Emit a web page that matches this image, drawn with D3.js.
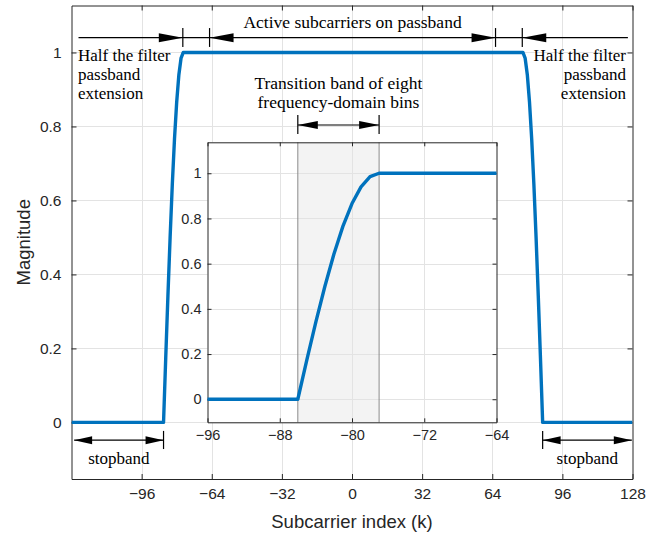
<!DOCTYPE html>
<html><head><meta charset="utf-8">
<script src="https://cdn.jsdelivr.net/npm/d3@7"></script>
<style>
body{margin:0;background:#fff;}
svg{display:block;}
</style></head>
<body>
<svg id="chart" width="661" height="534"></svg>
<script>
// ---------- data ----------
const subcarrierK = [-128,-86,-85,-84,-83,-82,-81,-80,-79,-78,-77,78,79,80,81,82,83,84,85,86,87,128];
const magnitude   = [0,0,0.174,0.342,0.5,0.643,0.766,0.866,0.940,0.985,1,1,0.985,0.940,0.866,0.766,0.643,0.5,0.342,0.174,0,0];
const mainXTicks = [-96,-64,-32,0,32,64,96,128];
const mainYTicks = [0,0.2,0.4,0.6,0.8,1];
const insetXTicks = [-96,-88,-80,-72,-64];
const insetYTicks = [0,0.2,0.4,0.6,0.8,1];
const transitionBand = [-86,-77];
const activeBand = [-65,65.5];
const filterEdges = [-77.2,77.7];
const stopEdges = [-86,87];
const labelTop = "Active subcarriers on passband";
const labelHalf = ["Half the filter","passband","extension"];
const labelTrans = ["Transition band of eight","frequency-domain bins"];
const labelStop = "stopband";

const series = subcarrierK.map((k,i)=>({k, m: magnitude[i]}));

// ---------- layout ----------
const svg = d3.select("#chart");
const axisColor = "#262626", gridColor = "#e3e3e3", lineColor = "#0072BD";
const sansFont = "'Liberation Sans', Arial, sans-serif";
const serifFont = "'Liberation Serif', 'Times New Roman', serif";

const x = d3.scaleLinear().domain([-128,128]).range([71.5,632.5]);
const y = d3.scaleLinear().domain([-0.153,1.127]).range([479,5.5]);
const xi = d3.scaleLinear().domain([-96,-64]).range([207.5,496.5]);
const yi = d3.scaleLinear().domain([-0.102,1.137]).range([422.3,142.3]);

const defs = svg.append("defs");
defs.append("clipPath").attr("id","clipMain").append("rect")
  .attr("x",x.range()[0]).attr("y",y.range()[1]).attr("width",x.range()[1]-x.range()[0]).attr("height",y.range()[0]-y.range()[1]);
defs.append("clipPath").attr("id","clipInset").append("rect")
  .attr("x",xi.range()[0]).attr("y",yi.range()[1]).attr("width",xi.range()[1]-xi.range()[0]).attr("height",yi.range()[0]-yi.range()[1]);

function drawAxesBox(g, sx, sy, xt, yt, opts){
  const [x0,x1] = sx.range(), [y0,y1] = sy.range(); // y0 bottom, y1 top
  g.append("rect").attr("x",x0).attr("y",y1).attr("width",x1-x0).attr("height",y0-y1).attr("fill","#fff");
  if (opts.before) opts.before(g);
  // grid
  g.append("g").selectAll("line").data(xt.filter(v=>v>sx.domain()[0]&&v<sx.domain()[1])).join("line")
    .attr("x1",d=>Math.round(sx(d))+0.5).attr("x2",d=>Math.round(sx(d))+0.5).attr("y1",y1).attr("y2",y0)
    .attr("stroke",gridColor).attr("stroke-width",1);
  g.append("g").selectAll("line").data(yt).join("line")
    .attr("y1",d=>Math.round(sy(d))+0.5).attr("y2",d=>Math.round(sy(d))+0.5).attr("x1",x0).attr("x2",x1)
    .attr("stroke",gridColor).attr("stroke-width",1);
  if (opts.mid) opts.mid(g);
  // axes with inward ticks
  const tl = opts.tickLen;
  const ax = g.append("g").attr("transform",`translate(0,${y0})`).call(d3.axisBottom(sx).tickValues(xt).tickSizeInner(-tl).tickSizeOuter(0).tickPadding(opts.xPad).tickFormat(d=>d<0?"\u2212"+Math.abs(d):d));
  const axT = g.append("g").attr("transform",`translate(0,${y1})`).call(d3.axisTop(sx).tickValues(xt).tickSizeInner(-tl).tickSizeOuter(0).tickFormat(""));
  const ay = g.append("g").attr("transform",`translate(${x0},0)`).call(d3.axisLeft(sy).tickValues(yt).tickSizeInner(-tl).tickSizeOuter(0).tickPadding(opts.yPad).tickFormat(d=>d===0?"0":(d===1?"1":d3.format(".1f")(d))));
  const ayR = g.append("g").attr("transform",`translate(${x1},0)`).call(d3.axisRight(sy).tickValues(yt).tickSizeInner(-tl).tickSizeOuter(0).tickFormat(""));
  [ax,axT,ay,ayR].forEach(a=>{
    a.select(".domain").attr("stroke",axisColor).attr("stroke-width",1);
    a.selectAll(".tick line").attr("stroke",axisColor);
    a.selectAll("text").attr("fill",axisColor).style("font-family",sansFont).style("font-size",opts.fs+"px");
  });
}

// ---------- main axes ----------
const gMain = svg.append("g");
drawAxesBox(gMain, x, y, mainXTicks, mainYTicks, {tickLen:5, xPad:9, yPad:10, fs:15.5});

const line = d3.line().x(d=>x(d.k)).y(d=>y(d.m));
gMain.append("path").datum(series).attr("clip-path","url(#clipMain)")
  .attr("d",line).attr("fill","none").attr("stroke",lineColor).attr("stroke-width",3.4).attr("stroke-linejoin","round");

// axis titles
svg.append("text").attr("x",(x.range()[0]+x.range()[1])/2).attr("y",528)
  .attr("text-anchor","middle").style("font-family",sansFont).style("font-size","18.5px").attr("fill",axisColor)
  .text("Subcarrier index (k)");
svg.append("text").attr("transform",`translate(30,${(y.range()[0]+y.range()[1])/2}) rotate(-90)`)
  .attr("text-anchor","middle").style("font-family",sansFont).style("font-size","18.5px").attr("fill",axisColor)
  .text("Magnitude");

// ---------- inset ----------
const gIn = svg.append("g");
drawAxesBox(gIn, xi, yi, insetXTicks, insetYTicks, {tickLen:4, xPad:7, yPad:6, fs:14.5,
  before: g=>{
    g.append("rect").attr("x",xi(transitionBand[0])).attr("y",yi.range()[1])
      .attr("width",xi(transitionBand[1])-xi(transitionBand[0])).attr("height",yi.range()[0]-yi.range()[1])
      .attr("fill","#f3f3f3");
  },
  mid: g=>{
    g.selectAll(".edge").data(transitionBand).join("line").attr("class","edge")
      .attr("x1",d=>xi(d)).attr("x2",d=>xi(d)).attr("y1",yi.range()[1]).attr("y2",yi.range()[0])
      .attr("stroke","#8a8a8a").attr("stroke-width",1);
  }});
const lineI = d3.line().x(d=>xi(d.k)).y(d=>yi(d.m));
gIn.append("path").datum(series).attr("clip-path","url(#clipInset)")
  .attr("d",lineI).attr("fill","none").attr("stroke",lineColor).attr("stroke-width",3.4).attr("stroke-linejoin","round");

// ---------- annotations ----------
const gA = svg.append("g");
function seg(x1,y1,x2,y2){ gA.append("line").attr("x1",x1).attr("y1",y1).attr("x2",x2).attr("y2",y2).attr("stroke","#000").attr("stroke-width",1.2); }
function head(tx,ty,dir,len,w){ // dir: +1 points right, -1 points left
  gA.append("path").attr("d",`M${tx},${ty}L${tx-dir*len},${ty-w/2}L${tx-dir*len},${ty+w/2}Z`).attr("fill","#000");
}
function txt(xp,yp,s,anchor,size){
  gA.append("text").attr("x",xp).attr("y",yp).attr("text-anchor",anchor)
    .style("font-family",serifFont).style("font-size",size+"px").attr("fill","#000").text(s);
}
// top arrows
const ty = y(1.04), tT = y(1.066), tB = y(1.015);
const xL0 = x(-124.8), xE0 = x(filterEdges[0]), xA0 = x(activeBand[0]), xA1 = x(activeBand[1]), xE1 = x(filterEdges[1]), xR1 = x(125.9);
seg(xL0,ty,xR1,ty);
[xE0,xA0,xA1,xE1].forEach(v=>seg(v,tT,v,tB));
head(xE0,ty,1,24,9);
head(xA0,ty,-1,24,9);
head(xA1,ty,1,24,9);
head(xE1,ty,-1,24,9);
txt((xA0+xA1)/2, 28, labelTop, "middle", 17.5);
labelHalf.forEach((s,i)=>{ txt(78, 61+i*19, s, "start", 17); txt(626, 61+i*19, s, "end", 17); });

// stopband arrows
const sy = y(-0.048), sT = y(-0.023), sB = y(-0.072);
const sL0 = x(-126.8), sL1 = x(stopEdges[0]), sR0 = x(stopEdges[1]), sR1 = x(127.7);
seg(sL0,sy,sL1,sy); seg(sR0,sy,sR1,sy);
seg(sL1,sT,sL1,sB); seg(sR0,sT,sR0,sB);
head(sL0,sy,-1,18,8); head(sL1,sy,1,18,8);
head(sR0,sy,-1,18,8); head(sR1,sy,1,18,8);
txt((sL0+sL1)/2, 464, labelStop, "middle", 17);
txt((sR0+sR1)/2, 464, labelStop, "middle", 17);

// transition band arrow
const ay0 = 125, aT = 115, aB = 134;
const tb0 = xi(transitionBand[0]), tb1 = xi(transitionBand[1]);
seg(tb0,ay0,tb1,ay0); seg(tb0,aT,tb0,aB); seg(tb1,aT,tb1,aB);
head(tb0,ay0,-1,20,8); head(tb1,ay0,1,20,8);
labelTrans.forEach((s,i)=> txt((tb0+tb1)/2, 89+i*18.5, s, "middle", 17.5));
</script>
</body></html>
